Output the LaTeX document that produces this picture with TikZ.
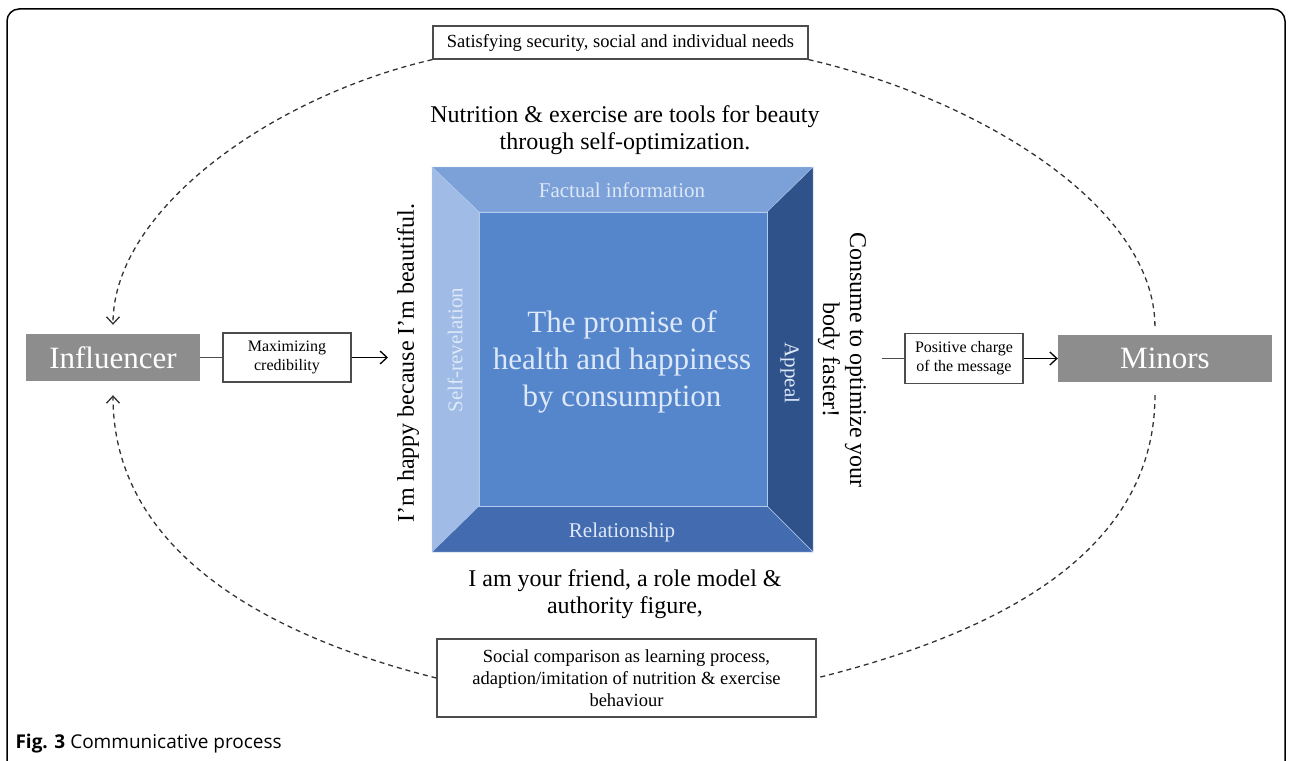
\documentclass[tikz,border=0pt]{standalone}
\usepackage{fontspec}
\setmainfont{Liberation Serif}
\newfontfamily\capfont{Open Sans}
\usetikzlibrary{positioning,calc,arrows.meta}

\definecolor{actorgray}{HTML}{8D8D8D}
\definecolor{ptop}{HTML}{7CA1D9}
\definecolor{pleft}{HTML}{A0BCE6}
\definecolor{pcenter}{HTML}{5586CC}
\definecolor{pright}{HTML}{30528A}
\definecolor{pbottom}{HTML}{436CB0}
\definecolor{seam}{HTML}{B4CAEC}
\definecolor{paneltext}{HTML}{DDE8F8}

\begin{document}
\begin{tikzpicture}[x=1pt, y=-1pt,
    actor/.style={fill=actorgray, text=white, inner sep=0pt, font=\fontsize{31}{36}\selectfont},
    tag/.style={draw=black!70, line width=1.2pt, fill=white, align=center, inner sep=0pt, font=\fontsize{16}{19}\selectfont},
    note/.style={draw=black!70, line width=1.2pt, fill=white, align=center, inner sep=0pt, font=\fontsize{18.5}{22}\selectfont},
    quote/.style={align=center, font=\fontsize{24}{27}\selectfont},
    panel/.style={text=paneltext, font=\fontsize{21}{24}\selectfont},
    dashflow/.style={dash pattern=on 5pt off 4pt, line width=1.3pt, black!80},
    barb/.style={-{Straight Barb[length=7pt,width=13pt]}},
    flow/.style={line width=1.3pt, barb}]
\useasboundingbox (0,0) rectangle (1292,760);
\draw[line width=1.5pt, rounded corners=12pt] (7,775) -- (7,9) -- (1285,9) -- (1285,775);

% bevelled square
\coordinate (o1) at (432,167); \coordinate (o2) at (813,167);
\coordinate (o3) at (813,552); \coordinate (o4) at (432,552);
\coordinate (i1) at (479,212); \coordinate (i2) at (767,212);
\coordinate (i3) at (767,506); \coordinate (i4) at (479,506);
\filldraw[fill=ptop, draw=seam] (o1) -- (o2) -- (i2) -- (i1) -- cycle;
\filldraw[fill=pleft, draw=seam] (o1) -- (i1) -- (i4) -- (o4) -- cycle;
\filldraw[fill=pright, draw=seam] (o2) -- (o3) -- (i3) -- (i2) -- cycle;
\filldraw[fill=pbottom, draw=seam] (o4) -- (i4) -- (i3) -- (o3) -- cycle;
\filldraw[fill=pcenter, draw=seam] (i1) rectangle (i3);

\node[panel] (fact) at (622,190) {Factual information};
\node[panel, rotate=90] (reveal) at (455,350) {Self-revelation};
\node[panel, rotate=-90] (appeal) at (790,373) {Appeal};
\node[panel] (relation) at (622,532) {Relationship};
\node[align=center, text=paneltext, font=\fontsize{31}{37}\selectfont] (promise) at (622,362)
    {The promise of\\health and happiness\\by consumption};

% quotes round the square
\node[quote] (beauty) at (625,130) {Nutrition \& exercise are tools for beauty\\through self-optimization.};
\node[quote, rotate=90] (happy) at (408,363) {I'm happy because I'm beautiful.};
\node[quote, rotate=-90] (consume) at (842,360) {Consume to optimize your\\body faster!};
\node[quote] (friend) at (625,594) {I am your friend, a role model \&\\authority figure,};

% sender and receiver
\node[actor, minimum width=174pt, minimum height=47pt] (infl) at (113,357.5) {Influencer};
\node[actor, minimum width=214pt, minimum height=47pt] (minors) at (1165,358.5) {Minors};
\node[tag, minimum width=128pt, minimum height=49pt] (cred) at (287,357.5) {Maximizing\\credibility};
\node[tag, minimum width=118pt, minimum height=50pt] (charge) at (964,358.5) {Positive charge\\of the message};
\node[note, minimum width=375pt, minimum height=33pt] (needs) at (620.5,42.5) {Satisfying security, social and individual needs};
\node[note, minimum width=379pt, minimum height=78pt] (learn) at (626.5,678)
    {Social comparison as learning process,\\adaption/imitation of nutrition \& exercise\\behaviour};

\coordinate (qL) at (388,357.5);
\coordinate (qR) at (882,358.5);
\draw[line width=1.2pt, black!70] (infl) -- (cred);
\draw[flow] (cred) -- (qL);
\draw[line width=1.2pt, black!70] (qR) -- (charge);
\draw[flow] (charge) -- (minors);

% feedback loop
\draw[dashflow, barb, shorten >=9pt] (needs.south west) to[out=193, in=90, in looseness=0.75] (infl.north);
\draw[dashflow, shorten >=8pt] (needs.south east) to[out=-13, in=90, in looseness=0.75] (minors.113);
\draw[dashflow, shorten <=13pt] (minors.247) to[out=-90, in=14] (learn.east);
\draw[dashflow, barb, shorten >=14pt] (learn.west) to[out=166, in=-90] (infl.south);

\node[anchor=base west, font=\capfont\fontsize{19}{21}\selectfont] (cap) at (12,748) {\textbf{Fig. 3} Communicative process};
\end{tikzpicture}
\end{document}
